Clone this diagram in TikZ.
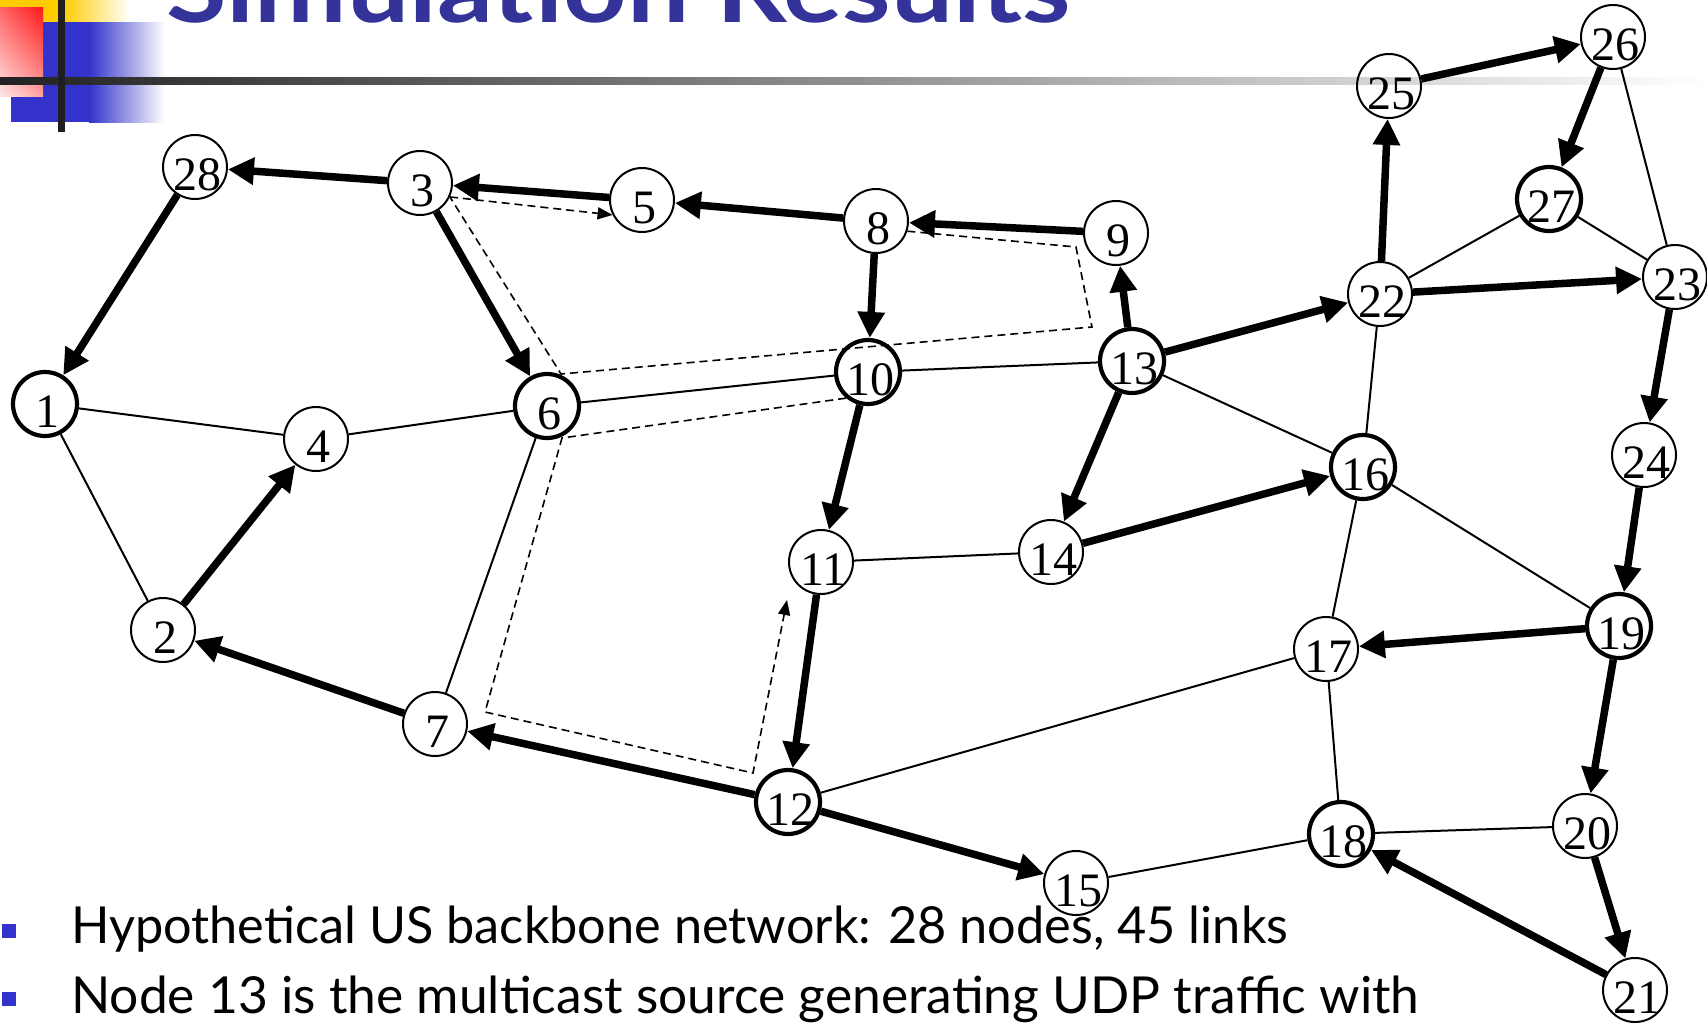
\documentclass[tikz,border=0pt]{standalone}
\usepackage{fontspec}
\usepackage{graphicx}
\setmainfont{Liberation Serif}
\newfontfamily\slidefont{Lato}
\usetikzlibrary{arrows.meta,shadings}
\definecolor{slideblue}{HTML}{3333CC}
\definecolor{titleblue}{HTML}{333399}
\definecolor{slideyellow}{HTML}{FFCC00}
\definecolor{redA}{HTML}{FF1818}
\definecolor{redB}{HTML}{FF6464}
\definecolor{redC}{HTML}{FFA0A0}
\definecolor{redD}{HTML}{FFE6E6}

\begin{document}
\begin{tikzpicture}[x=1pt,y=-1pt,
  netnode/.style={circle, draw, line width=2pt, minimum size=64pt, inner sep=-6pt,
                  text height=46pt, text depth=0pt, font=\fontsize{48}{48}\selectfont,
                  execute at begin node=\hspace*{5pt}},
  member/.style={netnode, line width=4.2pt},
  link/.style={line width=2pt},
  tree/.style={line width=7.5pt, -{Triangle[length=26pt,width=26pt]}},
  probe/.style={line width=1.6pt, dash pattern=on 8pt off 5pt},
  probetip/.style={probe, -{Triangle[length=15pt,width=12pt]}},
  bodyline/.style={anchor=base west, inner sep=0pt},
]
\useasboundingbox (0,0) rectangle (1707,1031);
\clip (0,0) rectangle (1707,1031);

% slide corner ornament and rule
\fill[slideyellow] (0,0) rectangle (62,22);
\shade[left color=slideyellow, right color=white] (62,0) rectangle (130,22);
\fill[slideblue] (11,22) rectangle (89,122);
\shade[left color=slideblue, right color=white] (89,22) rectangle (165,122);
\shade[upper right=redA, upper left=redB, lower right=redC, lower left=redD] (0,7) rectangle (43,96);
\shade[left color=black!87, middle color=black!33, right color=white] (0,77) rectangle (1707,84);
\fill[black!88] (58,0) rectangle (65,132);

% title (its upper part runs off the page)
\node[bodyline, text=titleblue] (title) at (166,22)
  {\resizebox{904pt}{\height}{\slidefont\bfseries\fontsize{95}{95}\selectfont Simulation Results}};

% bullet text
\fill[slideblue] (2,924) rectangle (16,938);
\fill[slideblue] (2,992) rectangle (16,1006);
\node[bodyline] (line1) at (71,943)
  {\resizebox{1217pt}{\height}{\slidefont\fontsize{51}{51}\selectfont Hypothetical US backbone network: 28 nodes, 45 links}};
\node[bodyline] (line2) at (71,1013)
  {\resizebox{1348pt}{\height}{\slidefont\fontsize{51}{51}\selectfont Node 13 is the multicast source generating UDP traffic with}};

% network nodes
\node[netnode] (n28) at (195,167) {28};
\node[netnode] (n3)  at (420,183) {3};
\node[netnode] (n5)  at (642,200) {5};
\node[netnode] (n8)  at (876,221) {8};
\node[netnode] (n9)  at (1116,233) {9};
\node[member]  (n1)  at (45,404) {1};
\node[netnode] (n4)  at (316,439) {4};
\node[member]  (n6)  at (547,406) {6};
\node[member]  (n10) at (868,372) {10};
\node[member]  (n13) at (1132,361) {13};
\node[netnode] (n11) at (821,562) {11};
\node[netnode] (n14) at (1051,552) {14};
\node[netnode] (n2)  at (163,630) {2};
\node[netnode] (n7)  at (435,724) {7};
\node[member]  (n12) at (788,802) {12};
\node[netnode] (n15) at (1076,883) {15};
\node[member]  (n16) at (1363,467) {16};
\node[netnode] (n17) at (1326,649) {17};
\node[member]  (n18) at (1341,834) {18};
\node[member]  (n19) at (1619,626) {19};
\node[netnode] (n20) at (1585,826) {20};
\node[netnode] (n21) at (1635,990) {21};
\node[netnode] (n22) at (1380,294) {22};
\node[netnode] (n23) at (1675,277) {23};
\node[netnode] (n24) at (1644,455) {24};
\node[netnode] (n25) at (1389,86) {25};
\node[netnode] (n26) at (1613,37) {26};
\node[member]  (n27) at (1549,199) {27};

% plain links
\draw[link] (n1) -- (n4);
\draw[link] (n1) -- (n2);
\draw[link] (n4) -- (n6);
\draw[link] (n6) -- (n10);
\draw[link] (n10) -- (n13);
\draw[link] (n6) -- (n7);
\draw[link] (n11) -- (n14);
\draw[link] (n13) -- (n16);
\draw[link] (n22) -- (n16);
\draw[link] (n22) -- (n27);
\draw[link] (n27) -- (n23);
\draw[link] (n26) -- (n23);
\draw[link] (n16) -- (n19);
\draw[link] (n16) -- (n17);
\draw[link] (n17) -- (n12);
\draw[link] (n17) -- (n18);
\draw[link] (n18) -- (n20);
\draw[link] (n15) -- (n18);

% multicast tree
\draw[tree] (n3) -- (n28);
\draw[tree] (n28) -- (n1);
\draw[tree] (n5) -- (n3);
\draw[tree] (n8) -- (n5);
\draw[tree] (n9) -- (n8);
\draw[tree] (n3) -- (n6);
\draw[tree] (n8) -- (n10);
\draw[tree] (n13) -- (n9);
\draw[tree] (n13) -- (n22);
\draw[tree] (n13) -- (n14);
\draw[tree] (n10) -- (n11);
\draw[tree] (n11) -- (n12);
\draw[tree] (n14) -- (n16);
\draw[tree] (n12) -- (n7);
\draw[tree] (n7) -- (n2);
\draw[tree] (n2) -- (n4);
\draw[tree] (n12) -- (n15);
\draw[tree] (n22) -- (n25);
\draw[tree] (n25) -- (n26);
\draw[tree] (n26) -- (n27);
\draw[tree] (n22) -- (n23);
\draw[tree] (n23) -- (n24);
\draw[tree] (n24) -- (n19);
\draw[tree] (n19) -- (n17);
\draw[tree] (n19) -- (n20);
\draw[tree] (n20) -- (n21);
\draw[tree] (n21) -- (n18);

% alternative (dashed) routes
\coordinate (b1) at (1076,247);
\coordinate (b2) at (1092,327);
\coordinate (b3) at (561,374);
\draw[probe] (n8.-18) -- (b1) -- (b2) -- (b3) -- (n3.-25);
\draw[probetip] (n3.-25) -- (n5.207);
\coordinate (c1) at (562,438);
\coordinate (c2) at (485,712);
\coordinate (c3) at (753,773);
\coordinate (c4) at (787,600);
\draw[probetip] (n10.230) -- (c1) -- (c2) -- (c3) -- (c4);
\end{tikzpicture}
\end{document}
